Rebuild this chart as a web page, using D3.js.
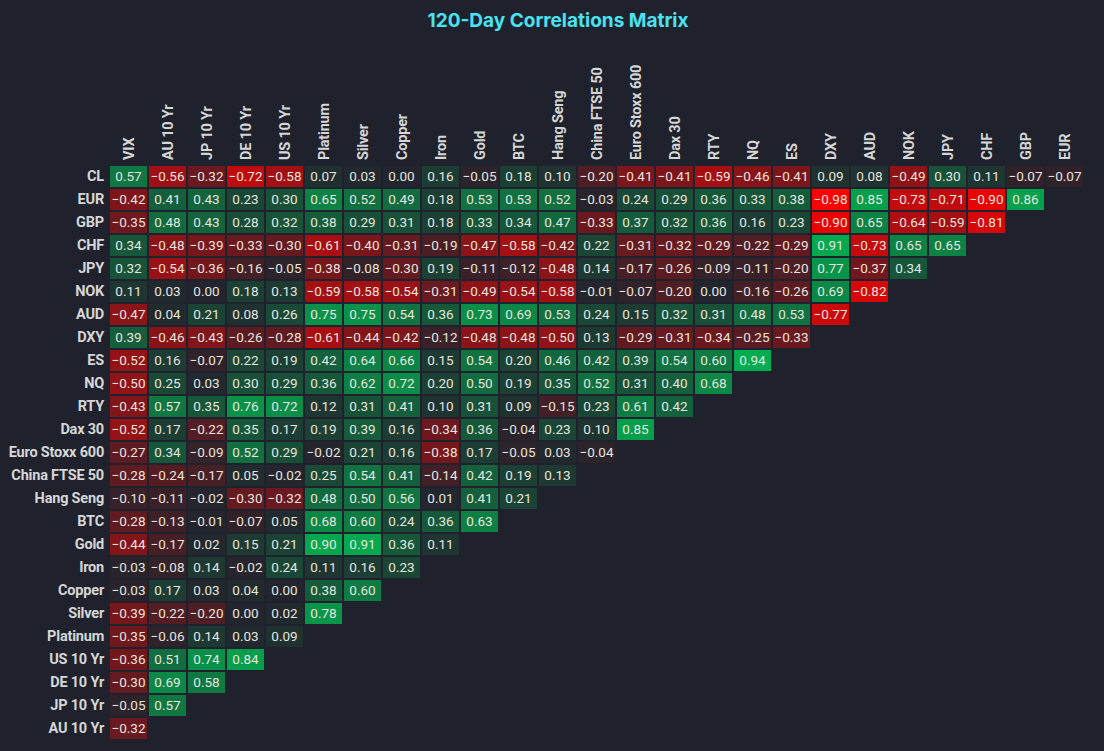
<!DOCTYPE html>
<html>
<head>
<meta charset="utf-8">
<script src="https://cdn.jsdelivr.net/npm/d3@7"></script>
<style>
  html, body { margin: 0; padding: 0; background: #1f222d; }
  svg { display: block; }
</style>
</head>
<body>
<div id="chart"></div>
<script>
// column order (x axis, left to right)
var columns = ["VIX", "AU 10 Yr", "JP 10 Yr", "DE 10 Yr", "US 10 Yr", "Platinum", "Silver", "Copper",
    "Iron", "Gold", "BTC", "Hang Seng", "China FTSE 50", "Euro Stoxx 600", "Dax 30", "RTY", "NQ", "ES",
    "DXY", "AUD", "NOK", "JPY", "CHF", "GBP", "EUR"];

// row order (y axis, top to bottom)
var rows = ["CL", "EUR", "GBP", "CHF", "JPY", "NOK", "AUD", "DXY", "ES", "NQ", "RTY", "Dax 30",
    "Euro Stoxx 600", "China FTSE 50", "Hang Seng", "BTC", "Gold", "Iron", "Copper", "Silver",
    "Platinum", "US 10 Yr", "DE 10 Yr", "JP 10 Yr", "AU 10 Yr"];

// correlations, one list per row, starting at the VIX column
var values = [
    [0.57, -0.56, -0.32, -0.72, -0.58, 0.07, 0.03, 0.00, 0.16, -0.05, 0.18, 0.10, -0.20, -0.41, -0.41, -0.59, -0.46, -0.41, 0.09, 0.08, -0.49, 0.30, 0.11, -0.07, -0.07],
    [-0.42, 0.41, 0.43, 0.23, 0.30, 0.65, 0.52, 0.49, 0.18, 0.53, 0.53, 0.52, -0.03, 0.24, 0.29, 0.36, 0.33, 0.38, -0.98, 0.85, -0.73, -0.71, -0.90, 0.86],
    [-0.35, 0.48, 0.43, 0.28, 0.32, 0.38, 0.29, 0.31, 0.18, 0.33, 0.34, 0.47, -0.33, 0.37, 0.32, 0.36, 0.16, 0.23, -0.90, 0.65, -0.64, -0.59, -0.81],
    [0.34, -0.48, -0.39, -0.33, -0.30, -0.61, -0.40, -0.31, -0.19, -0.47, -0.58, -0.42, 0.22, -0.31, -0.32, -0.29, -0.22, -0.29, 0.91, -0.73, 0.65, 0.65],
    [0.32, -0.54, -0.36, -0.16, -0.05, -0.38, -0.08, -0.30, 0.19, -0.11, -0.12, -0.48, 0.14, -0.17, -0.26, -0.09, -0.11, -0.20, 0.77, -0.37, 0.34],
    [0.11, 0.03, 0.00, 0.18, 0.13, -0.59, -0.58, -0.54, -0.31, -0.49, -0.54, -0.58, -0.01, -0.07, -0.20, 0.00, -0.16, -0.26, 0.69, -0.82],
    [-0.47, 0.04, 0.21, 0.08, 0.26, 0.75, 0.75, 0.54, 0.36, 0.73, 0.69, 0.53, 0.24, 0.15, 0.32, 0.31, 0.48, 0.53, -0.77],
    [0.39, -0.46, -0.43, -0.26, -0.28, -0.61, -0.44, -0.42, -0.12, -0.48, -0.48, -0.50, 0.13, -0.29, -0.31, -0.34, -0.25, -0.33],
    [-0.52, 0.16, -0.07, 0.22, 0.19, 0.42, 0.64, 0.66, 0.15, 0.54, 0.20, 0.46, 0.42, 0.39, 0.54, 0.60, 0.94],
    [-0.50, 0.25, 0.03, 0.30, 0.29, 0.36, 0.62, 0.72, 0.20, 0.50, 0.19, 0.35, 0.52, 0.31, 0.40, 0.68],
    [-0.43, 0.57, 0.35, 0.76, 0.72, 0.12, 0.31, 0.41, 0.10, 0.31, 0.09, -0.15, 0.23, 0.61, 0.42],
    [-0.52, 0.17, -0.22, 0.35, 0.17, 0.19, 0.39, 0.16, -0.34, 0.36, -0.04, 0.23, 0.10, 0.85],
    [-0.27, 0.34, -0.09, 0.52, 0.29, -0.02, 0.21, 0.16, -0.38, 0.17, -0.05, 0.03, -0.04],
    [-0.28, -0.24, -0.17, 0.05, -0.02, 0.25, 0.54, 0.41, -0.14, 0.42, 0.19, 0.13],
    [-0.10, -0.11, -0.02, -0.30, -0.32, 0.48, 0.50, 0.56, 0.01, 0.41, 0.21],
    [-0.28, -0.13, -0.01, -0.07, 0.05, 0.68, 0.60, 0.24, 0.36, 0.63],
    [-0.44, -0.17, 0.02, 0.15, 0.21, 0.90, 0.91, 0.36, 0.11],
    [-0.03, -0.08, 0.14, -0.02, 0.24, 0.11, 0.16, 0.23],
    [-0.03, 0.17, 0.03, 0.04, 0.00, 0.38, 0.60],
    [-0.39, -0.22, -0.20, 0.00, 0.02, 0.78],
    [-0.35, -0.06, 0.14, 0.03, 0.09],
    [-0.36, 0.51, 0.74, 0.84],
    [-0.30, 0.69, 0.58],
    [-0.05, 0.57],
    [-0.32]
];

var title = "120-Day Correlations Matrix";

var width = 1104, height = 751;

var svg = d3.select("#chart").append("svg")
    .attr("width", width)
    .attr("height", height);

svg.append("rect")
    .attr("width", width)
    .attr("height", height)
    .attr("fill", "#1f222d");

// 39px step, 37px cells
var x = d3.scaleBand()
    .domain(columns)
    .range([109, 1084])
    .paddingInner(2 / 39)
    .paddingOuter(1 / 39);

// 23px step, 21px cells
var y = d3.scaleBand()
    .domain(rows)
    .range([165, 740])
    .paddingInner(2 / 23)
    .paddingOuter(1 / 23);

var color = d3.scaleLinear()
    .domain([-1, 0, 1])
    .range(["#ff0000", "#22252d", "#00b552"])
    .interpolate(d3.interpolateRgb)
    .clamp(true);

// flatten to cells
var cells = [];
values.forEach(function(row, i) {
    row.forEach(function(v, j) {
        cells.push({ row: rows[i], col: columns[j], value: v });
    });
});

var g = svg.append("g");

g.selectAll("rect.cell")
    .data(cells)
    .enter().append("rect")
    .attr("class", "cell")
    .attr("x", function(d) { return x(d.col); })
    .attr("y", function(d) { return y(d.row); })
    .attr("width", x.bandwidth())
    .attr("height", y.bandwidth())
    .attr("fill", function(d) { return color(d.value); });

g.selectAll("text.val")
    .data(cells)
    .enter().append("text")
    .attr("class", "val")
    .attr("x", function(d) { return x(d.col) + x.bandwidth() / 2; })
    .attr("y", function(d) { return y(d.row) + y.bandwidth() / 2; })
    .attr("dy", "0.36em")
    .attr("text-anchor", "middle")
    .style("font-family", "Roboto, sans-serif")
    .style("font-size", "13.5px")
    .style("fill", "#e6e4df")
    .text(function(d) { return d3.format(".2f")(d.value); });

// row labels on the left
var yAxis = d3.axisLeft(y).tickSize(0).tickPadding(6);
var ya = svg.append("g")
    .attr("transform", "translate(110,0)")
    .call(yAxis);
ya.select(".domain").remove();
ya.selectAll("text")
    .style("font-family", "Roboto, sans-serif")
    .style("font-weight", "bold")
    .style("font-size", "14.5px")
    .style("letter-spacing", "-0.2px")
    .style("fill", "#d6d6d6");

// column labels on top, rotated
var xAxis = d3.axisTop(x).tickSize(0).tickPadding(0);
var xa = svg.append("g")
    .attr("transform", "translate(0,160)")
    .call(xAxis);
xa.select(".domain").remove();
xa.selectAll("text")
    .attr("transform", "rotate(-90)")
    .attr("x", 0)
    .attr("y", 0)
    .attr("dy", "0.36em")
    .attr("text-anchor", "start")
    .style("font-family", "Roboto, sans-serif")
    .style("font-weight", "bold")
    .style("font-size", "14.5px")
    .style("letter-spacing", "-0.2px")
    .style("fill", "#d6d6d6");

svg.append("text")
    .attr("x", 558)
    .attr("y", 27)
    .attr("text-anchor", "middle")
    .style("font-family", "Inter, sans-serif")
    .style("font-weight", "bold")
    .style("font-size", "19px")
    .style("fill", "#4ae3f3")
    .text(title);
</script>
</body>
</html>
